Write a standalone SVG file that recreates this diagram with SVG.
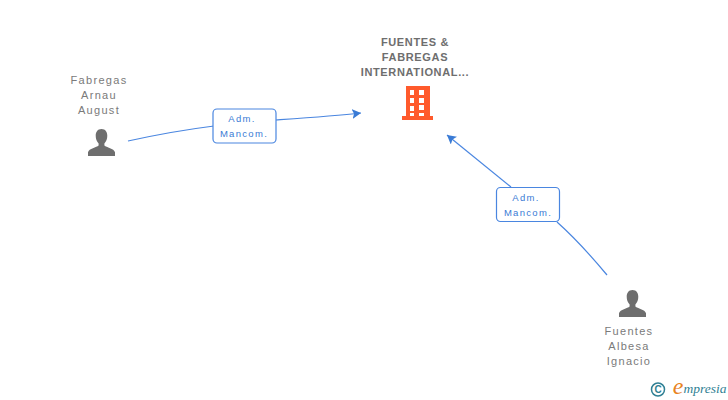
<svg xmlns="http://www.w3.org/2000/svg" width="728" height="400" viewBox="0 0 728 400">
<style>
text{font-family:"Liberation Sans",Arial,sans-serif;text-anchor:middle}
.n{font-size:11px;fill:#7a7a7a;letter-spacing:1.3px}
.t{font-size:11px;fill:#6e6e6e;font-weight:bold;letter-spacing:.65px}
.l{font-size:9.500px;fill:#3a7bd5;letter-spacing:1.3px}
.c{fill:none;stroke:#4a86e0;stroke-width:1.2}
.b{fill:#fff;stroke:#4a86e0;stroke-width:1.2}
.p{fill:#6e6e6e}
</style>
<defs>
<marker id="a" markerWidth="11" markerHeight="11" refX="9" refY="5" orient="auto" markerUnits="userSpaceOnUse"><path d="M0 0L9 5L0 10L2 5Z" fill="#3a7bd5"/></marker>
<symbol id="person" viewBox="0 0 28 28" overflow="visible"><path class="p" d="M14 0c4 0 6 3 6 7 0 3-1 6-3 8v2c2 2 10 3 11 7v4H0v-4c1-4 9-5 11-7v-2c-2-2-3-5-3-8 0-4 2-7 6-7Z"/></symbol>
</defs>
<g id="connectors">
<path class="c" d="M128 141C160 134 190 129 214 126"/>
<path class="c" marker-end="url(#a)" d="M276 120C305 118 335 116 361 113"/>
<path class="c" marker-end="url(#a)" d="M511 187L447 135"/>
<path class="c" d="M557 222C575 238 592 257 607 275"/>
</g>
<g id="n1">
<text class="n" x="99" y="84">Fabregas</text><text class="n" x="99" y="99">Arnau</text><text class="n" x="99" y="114">August</text>
<use href="#person" x="88" y="129" width="27" height="27"/>
</g>
<g id="n2">
<text class="t" x="415" y="45.500">FUENTES &amp;</text><text class="t" x="415" y="60.500">FABREGAS</text><text class="t" x="415" y="75.500">INTERNATIONAL...</text>
<path fill="#ff5a2c" fill-rule="evenodd" d="M406 86H430V116H433V120H402V116H406ZM410 90V95H414V90ZM419 90V95H424V90ZM410 98V103H414V98ZM419 98V103H424V98ZM410 106V111H414V106ZM419 105V110H424V105ZM410 113V116H414V113ZM419 113V116H424V113Z"/>
</g>
<g id="n3">
<text class="n" x="629" y="335">Fuentes</text><text class="n" x="629" y="350">Albesa</text><text class="n" x="629" y="365">Ignacio</text>
<use href="#person" x="619" y="290" width="27" height="27"/>
</g>
<g id="e1">
<rect class="b" x="213" y="109" width="63" height="34" rx="4"/>
<text class="l" x="242" y="122">Adm.</text><text class="l" x="244" y="137">Mancom.</text>
</g>
<g id="e2">
<rect class="b" x="496.500" y="187.500" width="63" height="34" rx="4"/>
<text class="l" x="526" y="201">Adm.</text><text class="l" x="528" y="216">Mancom.</text>
</g>
<g id="logo">
<circle cx="658" cy="389.500" r="6.500" fill="none" stroke="#2f7f93" stroke-width="1.500"/>
<text x="658" y="393" style="font-size:10px;font-weight:bold;fill:#2f7f93">C</text>
<text x="678" y="394" style="font-family:'Liberation Serif',serif;font-size:24px;font-style:italic;fill:#e8831e">e</text>
<text x="705" y="393" style="font-family:'Liberation Serif',serif;font-size:13.500px;font-style:italic;fill:#2f7f93">mpresia</text>
</g>
</svg>
